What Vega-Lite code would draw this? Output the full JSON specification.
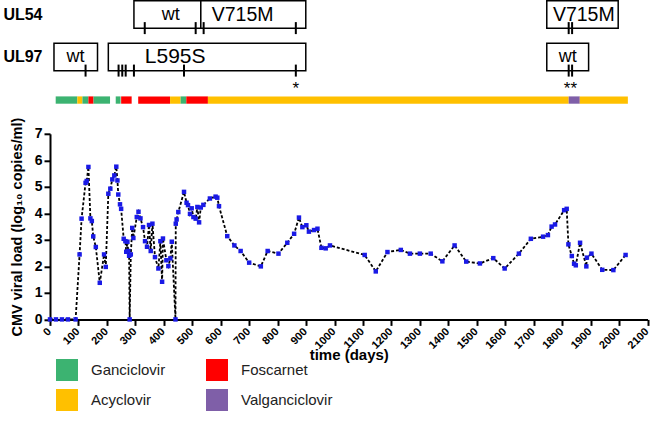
{
  "$schema": "https://vega.github.io/schema/vega-lite/v6.json",
  "padding": {"left": 2, "top": 0, "right": 1, "bottom": 2},
  "background": "white",
  "config": {
    "view": {"stroke": null},
    "font": "Liberation Sans",
    "axis": {"grid": false, "domainColor": "black", "tickColor": "black", "labelColor": "black", "titleColor": "black"}
  },
  "datasets": {
    "boxes": [
      {"gene": "UL54", "start": 295, "end": 530},
      {"gene": "UL54", "start": 530, "end": 899},
      {"gene": "UL54", "start": 1746, "end": 1997},
      {"gene": "UL97", "start": 14, "end": 167},
      {"gene": "UL97", "start": 205, "end": 899},
      {"gene": "UL97", "start": 1746, "end": 1893}
    ],
    "labels": [
      {"gene": "UL54", "day": 424, "label": "wt"},
      {"gene": "UL54", "day": 677, "label": "V715M"},
      {"gene": "UL54", "day": 1876, "label": "V715M"},
      {"gene": "UL97", "day": 90, "label": "wt"},
      {"gene": "UL97", "day": 440, "label": "L595S"},
      {"gene": "UL97", "day": 1820, "label": "wt"}
    ],
    "samples": [
      {"gene": "UL54", "day": 333}, {"gene": "UL54", "day": 512}, {"gene": "UL54", "day": 540},
      {"gene": "UL54", "day": 864}, {"gene": "UL54", "day": 1823}, {"gene": "UL54", "day": 1835},
      {"gene": "UL97", "day": 125}, {"gene": "UL97", "day": 241}, {"gene": "UL97", "day": 254},
      {"gene": "UL97", "day": 266}, {"gene": "UL97", "day": 295}, {"gene": "UL97", "day": 471},
      {"gene": "UL97", "day": 864}, {"gene": "UL97", "day": 1823}, {"gene": "UL97", "day": 1835}
    ],
    "stars": [
      {"gene": "UL97", "day": 864, "label": "*"},
      {"gene": "UL97", "day": 1829, "label": "**"}
    ],
    "treatment": [
      {"drug": "Ganciclovir", "start": 20, "end": 96},
      {"drug": "Acyclovir", "start": 96, "end": 114},
      {"drug": "Ganciclovir", "start": 114, "end": 135},
      {"drug": "Foscarnet", "start": 135, "end": 153},
      {"drug": "Ganciclovir", "start": 153, "end": 211},
      {"drug": "Ganciclovir", "start": 231, "end": 248},
      {"drug": "Foscarnet", "start": 250, "end": 287},
      {"drug": "Foscarnet", "start": 310, "end": 422},
      {"drug": "Acyclovir", "start": 422, "end": 459},
      {"drug": "Ganciclovir", "start": 459, "end": 479},
      {"drug": "Foscarnet", "start": 479, "end": 555},
      {"drug": "Acyclovir", "start": 555, "end": 1823},
      {"drug": "Valganciclovir", "start": 1823, "end": 1862},
      {"drug": "Acyclovir", "start": 1862, "end": 2031}
    ],
    "load": [
      {"day": 0, "v": 0}, {"day": 21, "v": 0}, {"day": 42, "v": 0}, {"day": 63, "v": 0}, {"day": 90, "v": 0},
      {"day": 104, "v": 2.45}, {"day": 111, "v": 3.8}, {"day": 125, "v": 5.15}, {"day": 129, "v": 5.22},
      {"day": 135, "v": 5.75}, {"day": 142, "v": 3.81}, {"day": 147, "v": 3.71}, {"day": 152, "v": 3.13},
      {"day": 161, "v": 2.73}, {"day": 175, "v": 1.38}, {"day": 190, "v": 2.45}, {"day": 196, "v": 1.98},
      {"day": 205, "v": 4.74}, {"day": 212, "v": 4.93}, {"day": 219, "v": 5.28}, {"day": 226, "v": 5.43},
      {"day": 233, "v": 5.76}, {"day": 237, "v": 5.24}, {"day": 240, "v": 4.71}, {"day": 246, "v": 4.34},
      {"day": 250, "v": 4.17}, {"day": 259, "v": 3.04}, {"day": 265, "v": 2.95}, {"day": 268, "v": 2.55},
      {"day": 272, "v": 2.93}, {"day": 275, "v": 2.58}, {"day": 278, "v": 2.4}, {"day": 280, "v": 0},
      {"day": 284, "v": 2.45}, {"day": 289, "v": 3.45}, {"day": 293, "v": 3.07}, {"day": 305, "v": 3.86},
      {"day": 311, "v": 4.06}, {"day": 318, "v": 3.81}, {"day": 327, "v": 3.48}, {"day": 334, "v": 2.95},
      {"day": 341, "v": 2.74}, {"day": 348, "v": 3.56}, {"day": 354, "v": 2.58}, {"day": 360, "v": 3.61},
      {"day": 369, "v": 2.35}, {"day": 381, "v": 1.92}, {"day": 388, "v": 2.95}, {"day": 394, "v": 1.42},
      {"day": 397, "v": 3.05}, {"day": 409, "v": 2.23}, {"day": 416, "v": 2.01}, {"day": 423, "v": 2.3},
      {"day": 428, "v": 2.93}, {"day": 441, "v": 0}, {"day": 442, "v": 3.61}, {"day": 445, "v": 3.77},
      {"day": 451, "v": 4.05}, {"day": 471, "v": 4.81}, {"day": 480, "v": 4.4}, {"day": 485, "v": 4.31},
      {"day": 492, "v": 3.98}, {"day": 498, "v": 4.19}, {"day": 504, "v": 3.86}, {"day": 512, "v": 3.8},
      {"day": 518, "v": 4.24}, {"day": 524, "v": 3.66}, {"day": 530, "v": 4.22}, {"day": 539, "v": 4.32},
      {"day": 562, "v": 4.56}, {"day": 582, "v": 4.63}, {"day": 588, "v": 4.59}, {"day": 594, "v": 4.27},
      {"day": 623, "v": 3.14}, {"day": 648, "v": 2.79}, {"day": 670, "v": 2.58}, {"day": 700, "v": 2.14},
      {"day": 741, "v": 2.0}, {"day": 765, "v": 2.58}, {"day": 803, "v": 2.48}, {"day": 834, "v": 2.89},
      {"day": 858, "v": 3.23}, {"day": 875, "v": 3.84}, {"day": 887, "v": 3.48}, {"day": 901, "v": 3.55},
      {"day": 910, "v": 3.31}, {"day": 928, "v": 3.37}, {"day": 940, "v": 3.42}, {"day": 954, "v": 2.7},
      {"day": 969, "v": 2.68}, {"day": 984, "v": 2.79}, {"day": 1106, "v": 2.43}, {"day": 1145, "v": 1.81},
      {"day": 1186, "v": 2.54}, {"day": 1233, "v": 2.62}, {"day": 1265, "v": 2.48}, {"day": 1300, "v": 2.48},
      {"day": 1338, "v": 2.48}, {"day": 1379, "v": 2.19}, {"day": 1422, "v": 2.79}, {"day": 1463, "v": 2.18},
      {"day": 1511, "v": 2.11}, {"day": 1558, "v": 2.31}, {"day": 1598, "v": 1.92}, {"day": 1648, "v": 2.48},
      {"day": 1690, "v": 3.04}, {"day": 1733, "v": 3.12}, {"day": 1750, "v": 3.18}, {"day": 1763, "v": 3.5},
      {"day": 1775, "v": 3.58}, {"day": 1807, "v": 4.12}, {"day": 1816, "v": 4.17}, {"day": 1822, "v": 2.83},
      {"day": 1834, "v": 2.39}, {"day": 1842, "v": 2.1}, {"day": 1848, "v": 2.04}, {"day": 1863, "v": 2.89},
      {"day": 1885, "v": 2.0}, {"day": 1887, "v": 2.33}, {"day": 1903, "v": 2.48}, {"day": 1941, "v": 1.87},
      {"day": 1980, "v": 1.86}, {"day": 2023, "v": 2.43}
    ]
  },
  "bounds": "flush",
  "spacing": 29.4,
  "vconcat": [
    {
      "width": 597.5,
      "height": 66.6,
      "encoding": {
        "y": {
          "field": "gene", "type": "nominal",
          "scale": {"domain": ["UL54", "UL97"], "range": [0, 71.5], "paddingInner": 0.357, "paddingOuter": 0.02},
          "axis": {"title": null, "domain": false, "ticks": false, "labelPadding": 8, "labelFontSize": 16, "labelFontWeight": "bold", "labelFont": "Liberation Sans"}
        }
      },
      "layer": [
        {
          "data": {"name": "boxes"},
          "mark": {"type": "rect", "fill": "white", "stroke": "black", "strokeWidth": 1.5},
          "encoding": {
            "x": {"field": "start", "type": "quantitative", "scale": {"domain": [0, 2100], "nice": false}, "axis": null},
            "x2": {"field": "end"}
          }
        },
        {
          "data": {"name": "labels"},
          "mark": {"type": "text", "font": "Liberation Sans", "color": "black", "baseline": "middle"},
          "encoding": {
            "x": {"field": "day", "type": "quantitative", "scale": {"domain": [0, 2100], "nice": false}, "axis": null},
            "text": {"field": "label"},
            "size": {"field": "label", "type": "nominal", "scale": {"domain": ["wt", "V715M", "L595S"], "range": [18, 21, 17.5]}, "legend": null}
          }
        },
        {
          "data": {"name": "samples"},
          "mark": {"type": "tick", "color": "black", "thickness": 2, "size": 12, "yOffset": 13.6, "opacity": 1},
          "encoding": {
            "x": {"field": "day", "type": "quantitative", "scale": {"domain": [0, 2100], "nice": false}, "axis": null}
          }
        },
        {
          "data": {"name": "stars"},
          "mark": {"type": "text", "fontSize": 17, "font": "Liberation Sans", "color": "black", "baseline": "middle", "yOffset": 32},
          "encoding": {
            "x": {"field": "day", "type": "quantitative", "scale": {"domain": [0, 2100], "nice": false}, "axis": null},
            "text": {"field": "label"}
          }
        }
      ]
    },
    {
      "width": 597.5,
      "height": 7.3,
      "data": {"name": "treatment"},
      "mark": {"type": "rect"},
      "encoding": {
        "x": {"field": "start", "type": "quantitative", "scale": {"domain": [0, 2100], "nice": false}, "axis": null},
        "x2": {"field": "end"},
        "color": {
          "field": "drug", "type": "nominal",
          "scale": {"domain": ["Ganciclovir", "Foscarnet", "Acyclovir", "Valganciclovir"], "range": ["#3cb371", "#ff0000", "#ffc000", "#7f5fa8"]},
          "legend": {
            "orient": "none", "legendX": 6, "legendY": 359, "direction": "horizontal", "columns": 2, "title": null,
            "symbolType": "square", "symbolSize": 484, "symbolStrokeWidth": 0, "symbolOpacity": 1,
            "labelFontSize": 15, "labelFont": "Liberation Sans", "labelColor": "#222",
            "rowPadding": 8, "columnPadding": 40, "labelOffset": 13
          }
        }
      }
    },
    {
      "width": 597.5,
      "height": 185.6,
      "data": {"name": "load"},
      "encoding": {
        "x": {
          "field": "day", "type": "quantitative",
          "scale": {"domain": [0, 2100], "nice": false},
          "axis": {
            "title": "time (days)", "titleFontSize": 15, "titleFontWeight": "bold", "titlePadding": -3,
            "values": [0, 100, 200, 300, 400, 500, 600, 700, 800, 900, 1000, 1100, 1200, 1300, 1400, 1500, 1600, 1700, 1800, 1900, 2000, 2100],
            "format": "d",
            "labelAngle": -45, "labelAlign": "right", "labelBaseline": "top", "labelFontSize": 11, "labelFontWeight": "bold",
            "labelPadding": 0, "labelOffset": -5,
            "tickSize": 6, "tickWidth": 2, "domainWidth": 2, "labelOverlap": false
          }
        },
        "y": {
          "field": "v", "type": "quantitative",
          "scale": {"domain": [0, 7], "nice": false},
          "axis": {
            "title": "CMV viral load (log₁₀ copies/ml)", "titleFontSize": 14.5, "titleFontWeight": "bold", "titlePadding": 10,
            "values": [0, 1, 2, 3, 4, 5, 6, 7], "labelFontSize": 14, "labelFontWeight": "bold", "labelPadding": 2,
            "tickSize": 6, "tickWidth": 2, "domainWidth": 2
          }
        }
      },
      "layer": [
        {"mark": {"type": "line", "color": "black", "strokeWidth": 1.8, "strokeDash": [3, 2]}},
        {"mark": {"type": "point", "shape": "square", "filled": true, "size": 20, "color": "#1a1ae6", "opacity": 1}}
      ]
    }
  ]
}
